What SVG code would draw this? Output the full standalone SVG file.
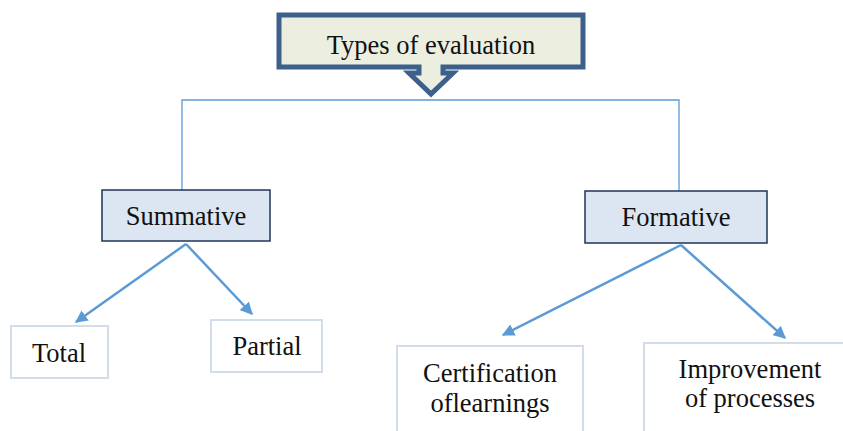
<svg xmlns="http://www.w3.org/2000/svg" width="843" height="431" viewBox="0 0 843 431">
<defs>
<style>
text{font-family:"Liberation Serif","Times New Roman",serif;font-size:26.5px;fill:#111;text-anchor:middle}
.conn{stroke:#5b9bd5;fill:none}
.mid{fill:#dce6f2;stroke:#1f3558;stroke-width:1.5}
.leaf{fill:#fff;stroke:#d3dceb;stroke-width:2}
</style>
<marker id="ah" viewBox="0 0 10 10" refX="9" refY="5" markerWidth="5" markerHeight="5" orient="auto" markerUnits="strokeWidth">
<path d="M0,0 L10,5 L0,10 z" fill="#5b9bd5"/>
</marker>
</defs>
<g id="connectors">
<path class="conn" stroke-width="1.3" d="M182,192 V100 H679 V192"/>
<line class="conn" stroke-width="2.5" x1="186" y1="244" x2="76" y2="322" marker-end="url(#ah)"/>
<line class="conn" stroke-width="2.5" x1="186" y1="244" x2="252" y2="314" marker-end="url(#ah)"/>
<line class="conn" stroke-width="2.5" x1="681" y1="245" x2="503" y2="335" marker-end="url(#ah)"/>
<line class="conn" stroke-width="2.5" x1="681" y1="245" x2="785" y2="338" marker-end="url(#ah)"/>
</g>
<g id="types">
<path d="M279,15 H583 V67 H443 V73 H453 L431,94 L409,73 H419 V67 H279 Z" fill="#ecefe0" stroke="#3c5f8c" stroke-width="5" stroke-linejoin="miter"/>
<text x="431" y="54">Types of evaluation</text>
</g>
<g id="summative">
<rect class="mid" x="102" y="190" width="168" height="51"/>
<text x="186" y="225">Summative</text>
</g>
<g id="formative">
<rect class="mid" x="585" y="191" width="182" height="52"/>
<text x="676" y="226">Formative</text>
</g>
<g id="total">
<rect class="leaf" x="11" y="326" width="97" height="52"/>
<text x="59" y="362">Total</text>
</g>
<g id="partial">
<rect class="leaf" x="211" y="320" width="111" height="52"/>
<text x="267" y="355">Partial</text>
</g>
<g id="certification">
<rect class="leaf" x="397" y="346" width="186" height="95"/>
<text x="490" y="382">Certification</text>
<text x="490" y="412">oflearnings</text>
</g>
<g id="improvement">
<rect class="leaf" x="644" y="343" width="210" height="95"/>
<text x="750" y="378">Improvement</text>
<text x="750" y="407">of processes</text>
</g>
</svg>
